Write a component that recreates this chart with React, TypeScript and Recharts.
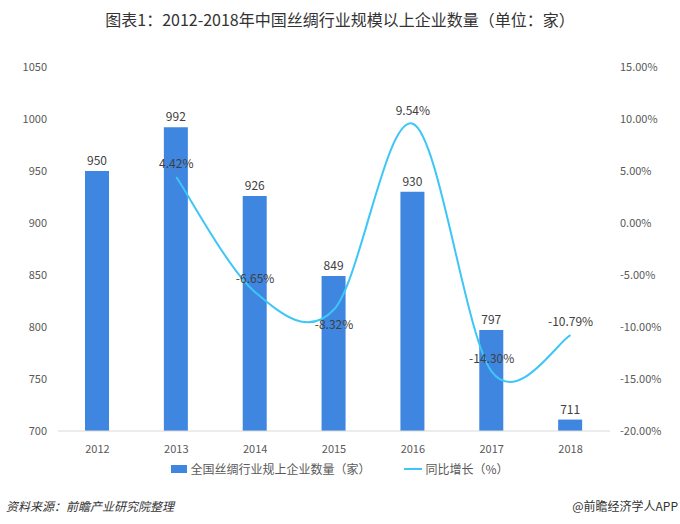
import { ComposedChart, Bar, Line, XAxis, YAxis, LabelList } from 'recharts';

const years = ['2012', '2013', '2014', '2015', '2016', '2017', '2018'];
const companies = [950, 992, 926, 849, 930, 797, 711];
const growth: (number | null)[] = [null, 4.42, -6.65, -8.32, 9.54, -14.3, -10.79];

const leftTicks = [700, 750, 800, 850, 900, 950, 1000, 1050];
const rightTicks = [-20, -15, -10, -5, 0, 5, 10, 15];

const data = years.map((year, i) => ({
  year,
  companies: companies[i],
  growth: growth[i],
}));

const BAR_COLOR = '#3f86e0';
const LINE_COLOR = '#3ec6f7';
const TEXT_COLOR = '#595959';
const FONT = '"Microsoft YaHei", "Noto Sans CJK SC", "Noto Sans", sans-serif';

// Catmull-Rom style smoothing (like a spreadsheet "smoothed line"), passed to Line as a curve factory
function smoothCurve(context: any) {
  let pts: [number, number][] = [];
  let line = NaN;
  return {
    areaStart() { line = 0; },
    areaEnd() { line = NaN; },
    lineStart() { pts = []; },
    lineEnd() {
      if (pts.length) {
        const [x0, y0] = pts[0];
        line ? context.lineTo(x0, y0) : context.moveTo(x0, y0);
        if (pts.length === 2) context.lineTo(pts[1][0], pts[1][1]);
        for (let i = 0; pts.length > 2 && i < pts.length - 1; i++) {
          const p0 = pts[Math.max(i - 1, 0)];
          const p1 = pts[i];
          const p2 = pts[i + 1];
          const p3 = pts[Math.min(i + 2, pts.length - 1)];
          context.bezierCurveTo(
            p1[0] + (p2[0] - p0[0]) / 6,
            p1[1] + (p2[1] - p0[1]) / 6,
            p2[0] - (p3[0] - p1[0]) / 6,
            p2[1] - (p3[1] - p1[1]) / 6,
            p2[0],
            p2[1]
          );
        }
      }
      if (line) context.closePath();
      line = 1 - line;
    },
    point(x: number, y: number) {
      pts.push([+x, +y]);
    },
  };
}

// growth labels sit above the point, except 2015 which is drawn below the curve
const GrowthLabel = (props: any) => {
  const { x, y, value, index } = props;
  if (value === null || value === undefined) return null;
  const below = years[index] === '2015';
  return (
    <text
      x={x}
      y={below ? y + 19 : y - 9}
      textAnchor="middle"
      fontSize={12}
      fill="#404040"
      fontFamily={FONT}
    >
      {`${value.toFixed(2)}%`}
    </text>
  );
};

export default function App() {
  return (
    <div
      style={{
        position: 'absolute',
        left: 0,
        top: 0,
        width: 680,
        height: 524,
        background: '#fff',
        fontFamily: FONT,
      }}
    >
      <div
        style={{
          position: 'absolute',
          top: 7,
          left: 0,
          width: 680,
          textAlign: 'center',
          fontSize: 16,
          color: '#333',
        }}
      >
        图表1：2012-2018年中国丝绸行业规模以上企业数量（单位：家）
      </div>

      <ComposedChart
        width={680}
        height={524}
        data={data}
        margin={{ top: 67, right: 0, bottom: 63, left: 0 }}
      >
        <XAxis
          dataKey="year"
          axisLine={{ stroke: '#d9d9d9' }}
          tickLine={false}
          tickMargin={8}
          height={30}
          tick={{ fontSize: 11, fill: TEXT_COLOR, fontFamily: FONT }}
        />
        <YAxis
          yAxisId="left"
          domain={[700, 1050]}
          ticks={leftTicks}
          width={58}
          axisLine={false}
          tickLine={false}
          tickMargin={5}
          interval={0}
          tick={{ fontSize: 11, fill: TEXT_COLOR, fontFamily: FONT }}
        />
        <YAxis
          yAxisId="right"
          orientation="right"
          domain={[-20, 15]}
          ticks={rightTicks}
          width={70}
          axisLine={false}
          tickLine={false}
          tickMargin={4}
          interval={0}
          tickFormatter={(v: number) => `${v.toFixed(2)}%`}
          tick={{ fontSize: 11, fill: TEXT_COLOR, fontFamily: FONT, textAnchor: 'start' }}
        />
        <Bar
          yAxisId="left"
          dataKey="companies"
          fill={BAR_COLOR}
          barSize={24}
          isAnimationActive={false}
        >
          <LabelList
            dataKey="companies"
            position="top"
            offset={6}
            style={{ fontSize: 12, fill: '#404040', fontFamily: FONT }}
          />
        </Bar>
        <Line
          yAxisId="right"
          type={smoothCurve as any}
          dataKey="growth"
          stroke={LINE_COLOR}
          strokeWidth={2}
          dot={false}
          connectNulls
          isAnimationActive={false}
        >
          <LabelList dataKey="growth" content={<GrowthLabel />} />
        </Line>
      </ComposedChart>

      <div
        style={{
          position: 'absolute',
          top: 460,
          left: 0,
          width: 680,
          display: 'flex',
          justifyContent: 'center',
          alignItems: 'center',
          fontSize: 12,
          color: TEXT_COLOR,
        }}
      >
        <span style={{ display: 'inline-block', width: 16, height: 8, background: BAR_COLOR, marginRight: 3 }} />
        <span style={{ marginRight: 34 }}>全国丝绸行业规上企业数量（家）</span>
        <span style={{ display: 'inline-block', width: 18, height: 2, background: LINE_COLOR, marginRight: 3 }} />
        <span>同比增长（%）</span>
      </div>

      <div
        style={{
          position: 'absolute',
          top: 497,
          left: 6,
          fontSize: 12,
          fontStyle: 'italic',
          color: '#333',
        }}
      >
        资料来源：前瞻产业研究院整理
      </div>
      <div
        style={{
          position: 'absolute',
          top: 497,
          right: 2,
          fontSize: 12,
          color: '#333',
        }}
      >
        @前瞻经济学人APP
      </div>
    </div>
  );
}
